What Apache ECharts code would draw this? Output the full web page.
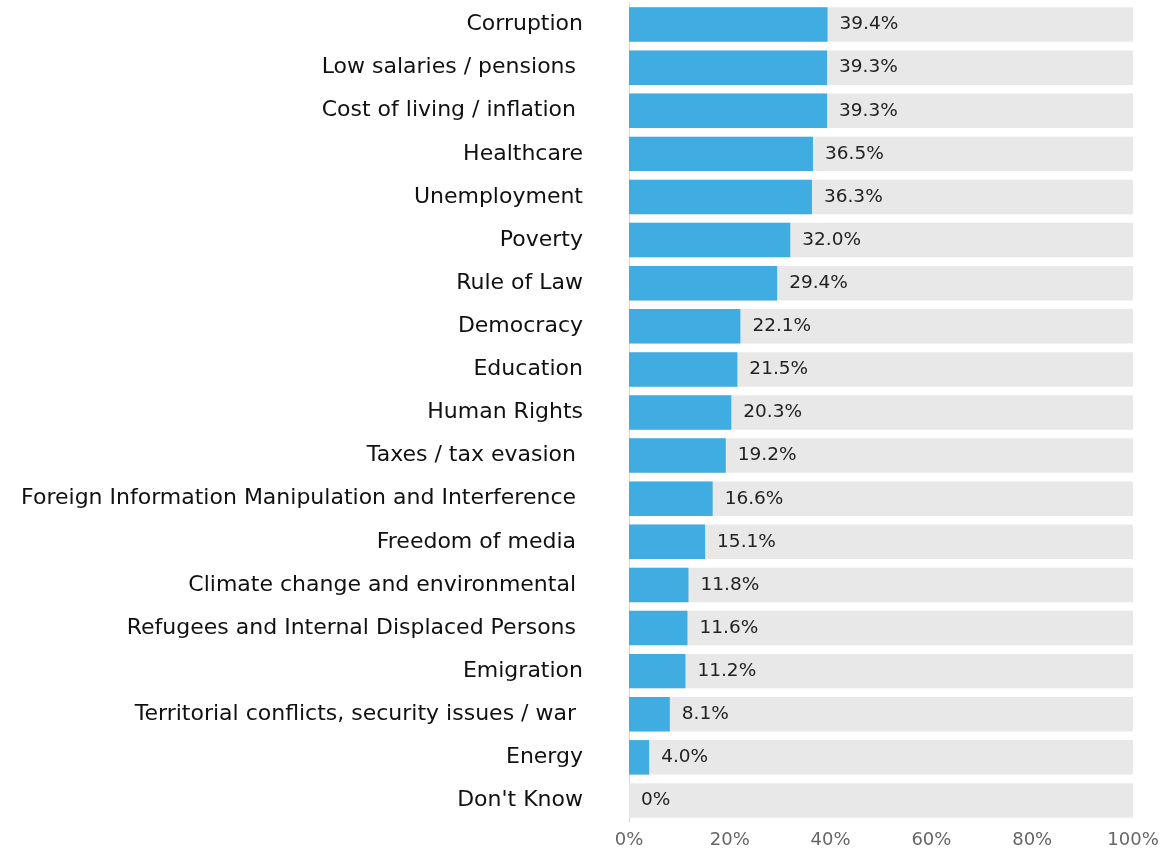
<!DOCTYPE html>
<html>
<head>
<meta charset="utf-8">
<script src="https://cdn.jsdelivr.net/npm/echarts@6/dist/echarts.min.js"></script>
<style>
  html, body { margin: 0; padding: 0; background: #fff; }
  #chart { width: 1160px; height: 853px; }
</style>
</head>
<body>
<div id="chart"></div>
<script>
const categories = [
  'Corruption',
  'Low salaries / pensions ',
  'Cost of living / inflation ',
  'Healthcare',
  'Unemployment',
  'Poverty',
  'Rule of Law',
  'Democracy',
  'Education',
  'Human Rights',
  'Taxes / tax evasion ',
  'Foreign Information Manipulation and Interference ',
  'Freedom of media ',
  'Climate change and environmental ',
  'Refugees and Internal Displaced Persons ',
  'Emigration',
  'Territorial conflicts, security issues / war ',
  'Energy',
  "Don't Know"
];
const shares = [39.4, 39.3, 39.3, 36.5, 36.3, 32.0, 29.4, 22.1, 21.5, 20.3, 19.2, 16.6, 15.1, 11.8, 11.6, 11.2, 8.1, 4.0, 0];
const xTicks = [0, 20, 40, 60, 80, 100];

const font = 'DejaVu Sans';
const chart = echarts.init(document.getElementById('chart'), null, { renderer: 'canvas' });
chart.setOption({
  animation: false,
  grid: { left: 629, right: 27, top: 3, bottom: 31, outerBoundsMode: 'none', containLabel: false },
  xAxis: {
    type: 'value',
    min: xTicks[0],
    max: xTicks[xTicks.length - 1],
    interval: 20,
    axisLine: { show: false },
    axisTick: { show: false },
    splitLine: { show: false },
    axisLabel: {
      formatter: '{value}%',
      color: '#666',
      fontSize: 18,
      fontFamily: font,
      margin: 9
    }
  },
  yAxis: {
    type: 'category',
    data: categories,
    inverse: true,
    axisTick: { show: false },
    axisLine: { show: true, lineStyle: { color: '#d8d8d8', width: 1 } },
    axisLabel: {
      color: '#111',
      fontSize: 22,
      fontFamily: font,
      margin: 46,
      verticalAlign: 'middle',
      padding: [0, 0, 6, 0]
    }
  },
  series: [{
    type: 'bar',
    data: shares,
    barCategoryGap: '20%',
    itemStyle: { color: '#3fade2' },
    showBackground: true,
    backgroundStyle: { color: '#e8e8e8' },
    label: {
      show: true,
      position: 'right',
      distance: 12,
      color: '#222',
      fontSize: 18.5,
      fontFamily: font,
      padding: [6, 0, 0, 0],
      formatter: p => p.value === 0 ? '0%' : p.value.toFixed(1) + '%'
    }
  }]
});
</script>
</body>
</html>
